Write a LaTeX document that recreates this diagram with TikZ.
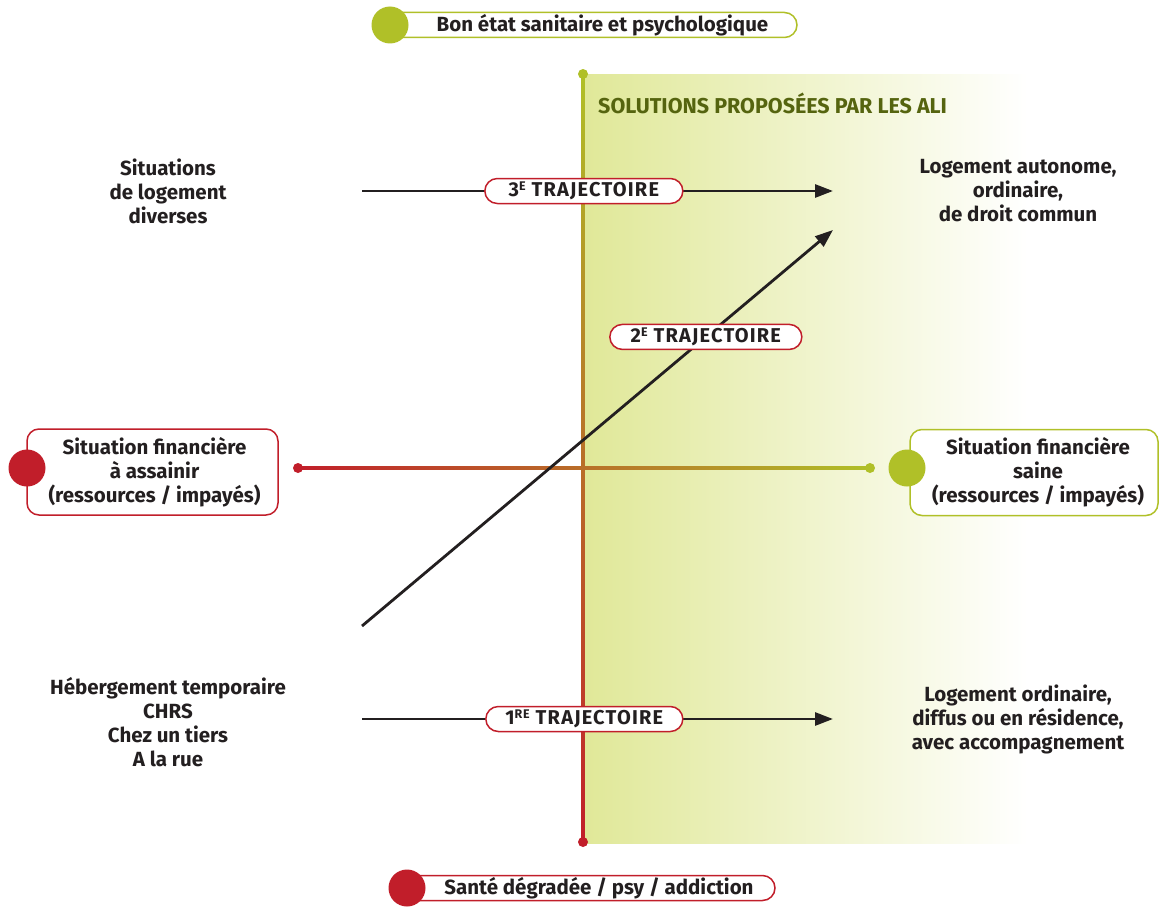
\documentclass[tikz,border=0pt]{standalone}
\usepackage{fontspec}
\setmainfont{Fira Sans}
\usetikzlibrary{arrows.meta}
\definecolor{dred}{RGB}{193,30,42}
\definecolor{lgreen}{RGB}{176,192,40}
\definecolor{olive}{RGB}{85,100,15}
\definecolor{bgreen}{RGB}{224,232,152}
\definecolor{txt}{RGB}{35,31,32}
\tikzset{
  base/.style={font=\fontsize{20.5}{24}\selectfont\bfseries, text=txt, align=center, inner sep=0pt},
  pill/.style={base, draw=#1, line width=1.5pt, rounded corners=12.5pt, fill=white, minimum height=25pt},
  trajtext/.style={font=\fontsize{20}{22}\selectfont\bfseries\addfontfeature{LetterSpace=6}},
  bigdot/.style={circle, fill=#1, minimum size=37pt, inner sep=0pt},
  smalldot/.style={circle, fill=#1, minimum size=10pt, inner sep=0pt},
  traj/.style={line width=2.8pt, draw=txt, -{Triangle[length=18pt,width=13pt]}},
  finbox/.style={base, draw=#1, line width=1.5pt, rounded corners=12pt, fill=white, minimum height=86pt},
}
\newcommand{\supx}[1]{\raisebox{0.6ex}{\fontsize{12.5}{12.5}\selectfont #1}}
\begin{document}
\begin{tikzpicture}[x=1pt,y=-1pt]
\useasboundingbox (0,0) rectangle (1161,907);
\fill[white] (0,0) rectangle (1161,907);
% background panel
\shade[left color=bgreen, right color=white] (583,74) rectangle (1028,843);
% vertical axis
\shade[top color=lgreen, bottom color=dred] (581.6,74) rectangle (584.4,842);
\node[smalldot=lgreen] (vtop) at (583,74) {};
\node[smalldot=dred] (vbot) at (583,842) {};
% horizontal axis
\shade[left color=dred, right color=lgreen] (296,466.6) rectangle (870,469.4);
\node[smalldot=dred] (hleft) at (298,468) {};
\node[smalldot=lgreen] (hright) at (870,468) {};
% title
\node[base, text=olive, anchor=west, font=\fontsize{21.5}{24}\selectfont\bfseries] (sol) at (598,103) {SOLUTIONS PROPOSÉES PAR LES ALI};
% top / bottom labels
\node[pill=lgreen, minimum width=407pt] (topl) at (593.5,25) {\hspace*{18pt}Bon état sanitaire et psychologique};
\node[bigdot=lgreen] (topd) at (390,25) {};
\node[pill=dred, minimum width=368pt] (botl) at (591,888) {\hspace*{16pt}Santé dégradée / psy / addiction};
\node[bigdot=dred] (botd) at (407,888) {};
% left / right texts
\node[base] (sitlog) at (168,191) {Situations\\de logement\\diverses};
\node[base] (heberg) at (168,722) {Hébergement temporaire\\CHRS\\Chez un tiers\\A la rue};
\node[base] (logaut) at (1018,191) {Logement autonome,\\ordinaire,\\de droit commun};
\node[base] (logord) at (1018,719) {Logement ordinaire,\\diffus ou en résidence,\\avec accompagnement};
% trajectories
\coordinate (a3) at (362,191);
\coordinate (b3) at (833,191);
\coordinate (a2) at (362,626);
\coordinate (b2) at (833,230);
\coordinate (a1) at (362,719);
\coordinate (b1) at (833,719);
\draw[traj] (a3) -- node[pill=dred, trajtext, pos=0.471, minimum width=198pt] (l3) {3\supx{E} TRAJECTOIRE} (b3);
\draw[traj] (a2) -- node[pill=dred, trajtext, pos=0.73, minimum width=192pt] (l2) {2\supx{E} TRAJECTOIRE} (b2);
\draw[traj] (a1) -- node[pill=dred, trajtext, pos=0.472, minimum width=197pt] (l1) {1\supx{RE} TRAJECTOIRE} (b1);
% financial boxes
\node[finbox=dred, minimum width=251pt] (finl) at (152.5,472) {\hspace*{4pt}Situation financière\\\hspace*{4pt}à assainir\\\hspace*{4pt}(ressources / impayés)};
\node[bigdot=dred] (finld) at (27,468) {};
\node[finbox=lgreen, minimum width=248pt] (finr) at (1034,472.5) {\hspace*{8pt}Situation financière\\\hspace*{8pt}saine\\\hspace*{8pt}(ressources / impayés)};
\node[bigdot=lgreen] (finrd) at (907,468) {};
\end{tikzpicture}
\end{document}
